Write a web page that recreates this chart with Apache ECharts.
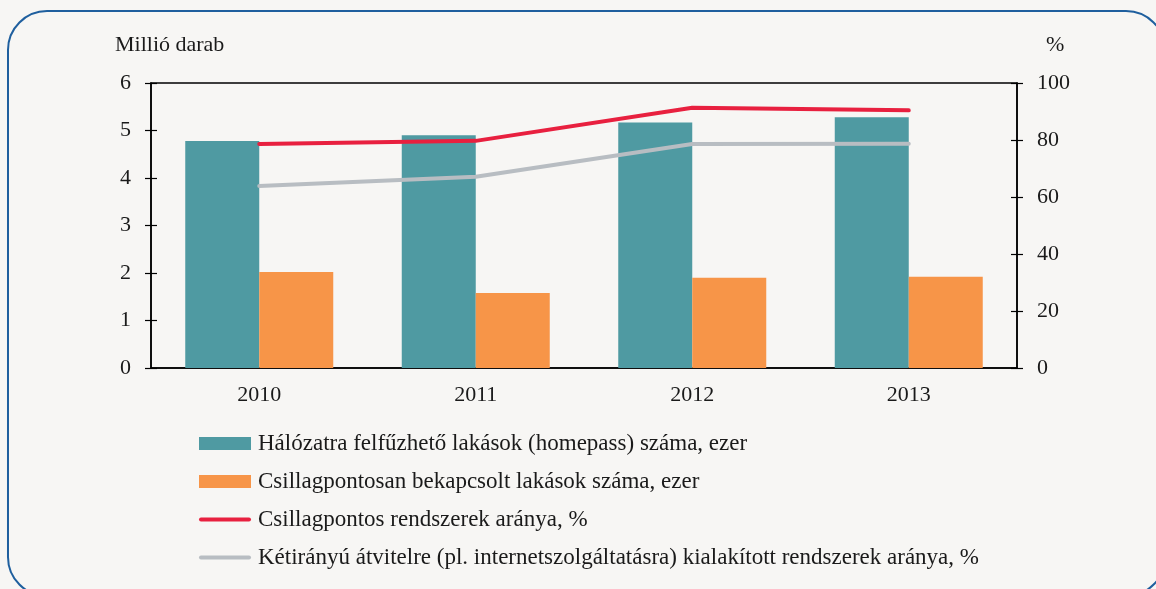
<!DOCTYPE html>
<html>
<head>
    <meta charset="utf-8">
    <title>Homepass</title>
    <script src="https://cdn.jsdelivr.net/npm/echarts@6/dist/echarts.min.js"></script>
    <style>
        html, body { margin: 0; padding: 0; background: #f7f6f4; }
        #chart { width: 1156px; height: 589px; }
    </style>
</head>
<body>
<div id="chart"></div>
<script>
    var years = ['2010', '2011', '2012', '2013'];
    var homepass = [4.78, 4.90, 5.17, 5.28];
    var bekapcsolt = [2.02, 1.58, 1.90, 1.92];
    var csillagArany = [78.6, 79.7, 91.3, 90.4];
    var ketiranyuArany = [63.9, 67.1, 78.6, 78.7];

    var names = [
        'Hálózatra felfűzhető lakások (homepass) száma, ezer',
        'Csillagpontosan bekapcsolt lakások száma, ezer',
        'Csillagpontos rendszerek aránya, %',
        'Kétirányú átvitelre (pl. internetszolgáltatásra) kialakított rendszerek aránya, %'
    ];

    var font = 'Liberation Serif';
    var lineIcon = 'path://M2,0L50,0A2,2,0,0,1,50,4L2,4A2,2,0,0,1,2,0Z';

    // tengelyek: 0 bal, 1 jobb, 2-3 belső osztások
    function yAx(pos, max, interval, inside, main) {
        return {
            type: 'value', position: pos, min: 0, max: max, interval: interval,
            axisLine: {show: main, lineStyle: {color: '#000', width: 1.5}},
            axisTick: {show: true, inside: inside, length: 6, lineStyle: {color: '#000', width: 1.2}},
            axisLabel: {show: main, margin: 20, fontFamily: font, fontSize: 22, color: '#1a1a1a'},
            splitLine: {show: false}
        };
    }

    var chart = echarts.init(document.getElementById('chart'));
    chart.setOption({
        backgroundColor: '#f7f6f4',
        animation: false,
        graphic: [{
            type: 'rect',
            shape: {x: 8, y: 11, width: 1157, height: 585, r: 39},
            style: {fill: 'none', stroke: '#1f5f9e', lineWidth: 2}
        }],
        title: [
            {text: 'Millió darab', left: 110, top: 29, textStyle: {fontFamily: font, fontSize: 22, fontWeight: 'normal', color: '#1a1a1a'}},
            {text: '%', left: 1041, top: 29, textStyle: {fontFamily: font, fontSize: 22, fontWeight: 'normal', color: '#1a1a1a'}}
        ],
        grid: {left: 151, right: 139, top: 83, bottom: 221, show: true, borderColor: '#000', borderWidth: 1.5, backgroundColor: 'transparent'},
        legend: {
            orient: 'vertical', left: 194, top: 427,
            itemWidth: 52, itemHeight: 13, itemGap: 15,
            symbolKeepAspect: true,
            textStyle: {fontFamily: font, fontSize: 23, lineHeight: 23, color: '#1a1a1a', padding: [0, 0, 0, 2]},
            data: [
                {name: names[0], icon: 'rect'},
                {name: names[1], icon: 'rect'},
                {name: names[2], icon: lineIcon},
                {name: names[3], icon: lineIcon}
            ]
        },
        xAxis: {
            type: 'category', data: years,
            axisLine: {lineStyle: {color: '#000', width: 1.5}},
            axisTick: {show: false},
            axisLabel: {margin: 16, fontFamily: font, fontSize: 22, color: '#1a1a1a'}
        },
        yAxis: [
            yAx('left', 6, 1, false, true),
            yAx('right', 100, 20, false, true),
            yAx('left', 6, 1, true, false),
            yAx('right', 100, 20, true, false)
        ],
        series: [
            {name: names[0], type: 'bar', data: homepass, barWidth: 74, barGap: '0%', itemStyle: {color: '#4f9aa2'}},
            {name: names[1], type: 'bar', data: bekapcsolt, barWidth: 74, barGap: '0%', itemStyle: {color: '#f79548'}},
            {name: names[2], type: 'line', yAxisIndex: 1, data: csillagArany, symbol: 'none',
                lineStyle: {color: '#e8203f', width: 4, cap: 'round'}, itemStyle: {color: '#e8203f'}},
            {name: names[3], type: 'line', yAxisIndex: 1, data: ketiranyuArany, symbol: 'none',
                lineStyle: {color: '#b8bdc2', width: 4, cap: 'round'}, itemStyle: {color: '#b8bdc2'}}
        ]
    });
</script>
</body>
</html>
